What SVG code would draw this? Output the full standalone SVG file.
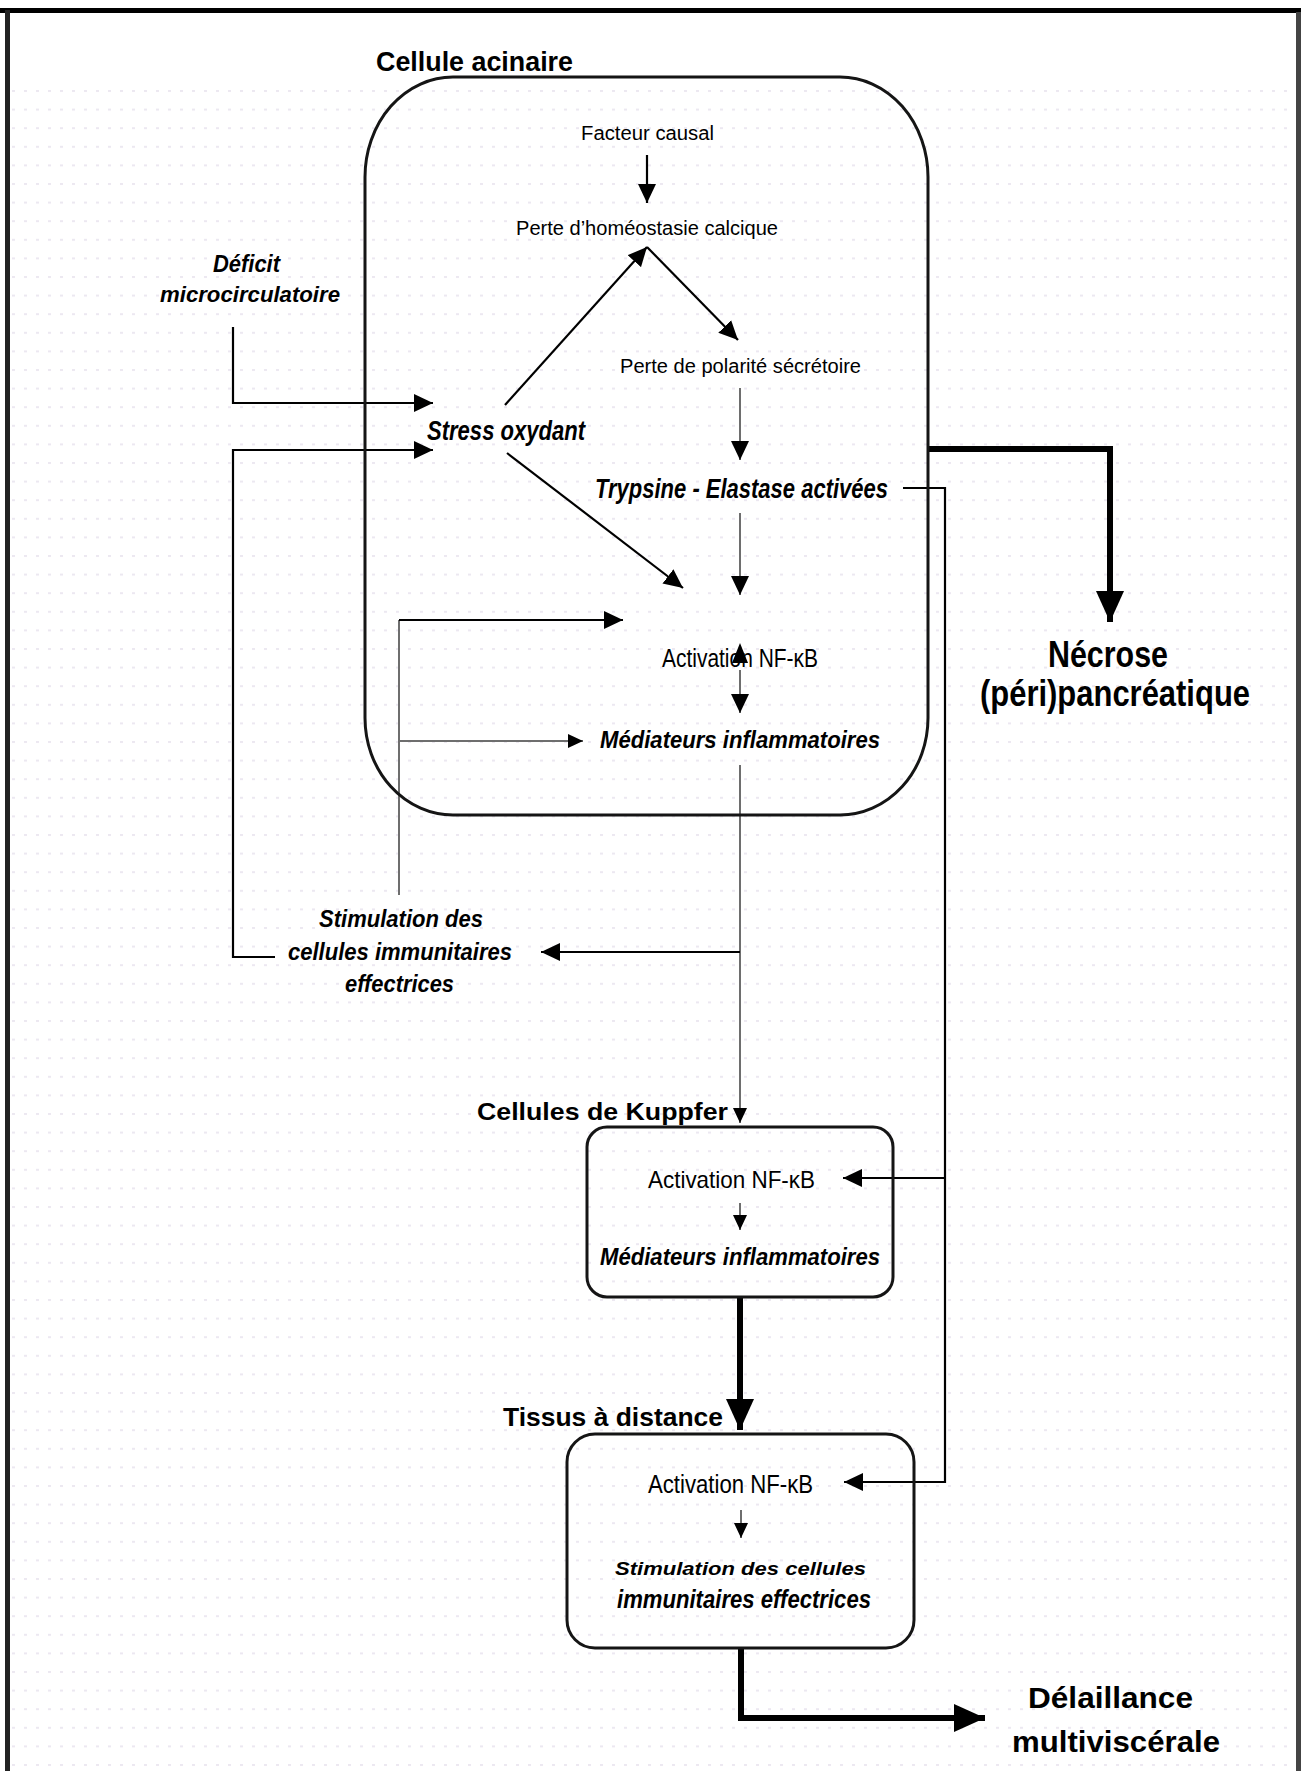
<svg xmlns="http://www.w3.org/2000/svg" width="1301" height="1771" viewBox="0 0 1301 1771">
<defs>
<style>
.t{font-family:"Liberation Sans",Arial,sans-serif;fill:#000}
.b{font-weight:bold}
.i{font-style:italic}
.c{fill:none;stroke:#000;stroke-width:2.2}
.g{fill:none;stroke:#6e6e6e;stroke-width:2}
.k{fill:none;stroke:#000;stroke-width:6}
.box{fill:none;stroke:#151515;stroke-width:3}
</style>
<pattern id="dots" patternUnits="userSpaceOnUse" x="0" y="90" width="12" height="18.6">
<rect x="0" y="0" width="3" height="2" fill="#ece8f1"/>
</pattern>
<marker id="ah" viewBox="0 0 10 10" refX="10" refY="5" markerWidth="19" markerHeight="18" markerUnits="userSpaceOnUse" orient="auto" preserveAspectRatio="none"><path d="M0,0 L10,5 L0,10 z" fill="#000"/></marker>
<marker id="ahs" viewBox="0 0 10 10" refX="10" refY="5" markerWidth="15" markerHeight="14" markerUnits="userSpaceOnUse" orient="auto" preserveAspectRatio="none"><path d="M0,0 L10,5 L0,10 z" fill="#000"/></marker>
<marker id="ahb" viewBox="0 0 10 10" refX="10" refY="5" markerWidth="31" markerHeight="28" markerUnits="userSpaceOnUse" orient="auto" preserveAspectRatio="none"><path d="M0,0 L10,5 L0,10 z" fill="#000"/></marker>
</defs>
<rect x="0" y="0" width="1301" height="1771" fill="#fff"/>
<rect x="12" y="88" width="1280" height="1680" fill="url(#dots)"/>
<g id="frame">
<rect x="0" y="8" width="1301" height="5" fill="#000"/>
<rect x="5" y="10" width="5" height="1761" fill="#222"/>
<rect x="1296" y="12" width="5" height="1759" fill="#444"/>
</g>

<g id="connectors">
<path class="c" d="M647,155 V203" marker-end="url(#ah)"/>
<path class="c" d="M505,405 L647,247" marker-end="url(#ah)"/>
<path class="c" d="M647,247 L738,340" marker-end="url(#ah)"/>
<path class="g" d="M740,388 V460" marker-end="url(#ah)"/>
<path class="g" d="M740,513 V595" marker-end="url(#ah)"/>
<path class="c" d="M507,453 L683,588" marker-end="url(#ah)"/>
<path class="g" d="M740,670 V713" marker-end="url(#ah)"/>
<polygon points="740,643 732,663 748,663" fill="#000"/>
<path class="g" d="M740,765 V1123" marker-end="url(#ahs)"/>
<path class="c" d="M740,952 H541" marker-end="url(#ah)"/>
<path class="g" d="M399,895 V620"/>
<path class="c" d="M399,620 H623" marker-end="url(#ah)"/>
<path class="g" d="M399,741 H583" marker-end="url(#ahs)"/>
<path class="c" d="M233,327 V403 H433" marker-end="url(#ah)"/>
<path class="c" d="M275,957 H233 V450 H433" marker-end="url(#ah)"/>
<path class="c" d="M903,488 H945 V1482 H844" marker-end="url(#ah)"/>
<path class="c" d="M945,1178 H843" marker-end="url(#ah)"/>
<path class="k" d="M928,449 H1110 V622" stroke-width="5" marker-end="url(#ahb)"/>
<path class="g" d="M740,1203 V1230" marker-end="url(#ahs)"/>
<path class="k" d="M740,1297 V1430" stroke-width="7" marker-end="url(#ahb)"/>
<path class="g" d="M741,1510 V1538" marker-end="url(#ahs)"/>
<path class="k" d="M741,1648 V1718 H985" marker-end="url(#ahb)"/>
</g>

<g id="cellule-acinaire">
<path class="box" d="M453,77 H840 A88,100 0 0 1 928,177 V718 A88,97 0 0 1 840,815 H453 A88,97 0 0 1 365,718 V177 A88,100 0 0 1 453,77 Z"/>
<text class="t b" x="376" y="71" font-size="27" textLength="197" lengthAdjust="spacingAndGlyphs">Cellule acinaire</text>
</g>
<g id="facteur-causal"><text class="t" x="581" y="140" font-size="20" textLength="133" lengthAdjust="spacingAndGlyphs">Facteur causal</text></g>
<g id="perte-homeostasie"><text class="t" x="516" y="235" font-size="20" textLength="262" lengthAdjust="spacingAndGlyphs">Perte d’homéostasie calcique</text></g>
<g id="perte-polarite"><text class="t" x="620" y="373" font-size="20" textLength="241" lengthAdjust="spacingAndGlyphs">Perte de polarité sécrétoire</text></g>
<g id="trypsine"><text class="t b i" x="595" y="498" font-size="27" textLength="293" lengthAdjust="spacingAndGlyphs">Trypsine - Elastase activées</text></g>
<g id="stress-oxydant"><text class="t b i" x="427" y="440" font-size="27" textLength="158" lengthAdjust="spacingAndGlyphs">Stress oxydant</text></g>
<g id="deficit">
<text class="t b i" x="213" y="272" font-size="23" textLength="67" lengthAdjust="spacingAndGlyphs">Déficit</text>
<text class="t b i" x="160" y="302" font-size="22" textLength="180" lengthAdjust="spacingAndGlyphs">microcirculatoire</text>
</g>
<g id="nfkb-acinaire"><text class="t" x="662" y="667" font-size="25" textLength="156" lengthAdjust="spacingAndGlyphs">Activation NF-κB</text></g>
<g id="mediateurs-acinaire"><text class="t b i" x="600" y="748" font-size="23" textLength="280" lengthAdjust="spacingAndGlyphs">Médiateurs inflammatoires</text></g>
<g id="stimulation">
<text class="t b i" x="319" y="927" font-size="24" textLength="164" lengthAdjust="spacingAndGlyphs">Stimulation des</text>
<text class="t b i" x="288" y="960" font-size="24" textLength="224" lengthAdjust="spacingAndGlyphs">cellules immunitaires</text>
<text class="t b i" x="345" y="992" font-size="24" textLength="109" lengthAdjust="spacingAndGlyphs">effectrices</text>
</g>
<g id="kuppfer">
<text class="t b" x="477" y="1120" font-size="24" textLength="251" lengthAdjust="spacingAndGlyphs">Cellules de Kuppfer</text>
<rect class="box" x="587" y="1127" width="306" height="170" rx="20" ry="20" stroke-width="2.5"/>
<text class="t" x="648" y="1188" font-size="24" textLength="167" lengthAdjust="spacingAndGlyphs">Activation NF-κB</text>
<text class="t b i" x="600" y="1265" font-size="23" textLength="280" lengthAdjust="spacingAndGlyphs">Médiateurs inflammatoires</text>
</g>
<g id="tissus">
<text class="t b" x="503" y="1426" font-size="25" textLength="220" lengthAdjust="spacingAndGlyphs">Tissus à distance</text>
<rect class="box" x="567" y="1434" width="347" height="214" rx="28" ry="28" stroke-width="2.5"/>
<text class="t" x="648" y="1493" font-size="25" textLength="165" lengthAdjust="spacingAndGlyphs">Activation NF-κB</text>
<text class="t b i" x="615" y="1575" font-size="19" textLength="251" lengthAdjust="spacingAndGlyphs">Stimulation des cellules</text>
<text class="t b i" x="617" y="1608" font-size="25" textLength="254" lengthAdjust="spacingAndGlyphs">immunitaires effectrices</text>
</g>
<g id="necrose">
<text class="t b" x="1048" y="667" font-size="36" textLength="120" lengthAdjust="spacingAndGlyphs">Nécrose</text>
<text class="t b" x="980" y="706" font-size="36" textLength="270" lengthAdjust="spacingAndGlyphs">(péri)pancréatique</text>
</g>
<g id="defaillance">
<text class="t b" x="1028" y="1708" font-size="30" textLength="165" lengthAdjust="spacingAndGlyphs">Délaillance</text>
<text class="t b" x="1012" y="1752" font-size="30" textLength="208" lengthAdjust="spacingAndGlyphs">multiviscérale</text>
</g>
</svg>
